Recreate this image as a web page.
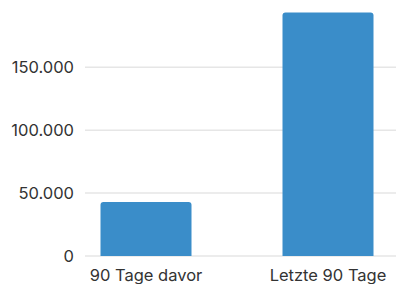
<!DOCTYPE html>
<html>
<head>
<meta charset="utf-8">
<script src="https://cdn.jsdelivr.net/npm/d3@7"></script>
<style>
  html, body { margin: 0; padding: 0; background: #fff; }
  svg { display: block; font-family: Inter, "Liberation Sans", Arial, sans-serif; }
</style>
</head>
<body>
<div id="chart"></div>
<script>
const FRAME_WIDTH = 396;
const FRAME_HEIGHT = 284;

const CATEGORIES = ["90 Tage davor", "Letzte 90 Tage"];
const VALUES = [43000, 193500];
const Y_TICKS = [0, 50000, 100000, 150000];

const BAR_COLOR = "#3a8dc9";

const FRAME = d3
  .select("#chart")
  .append("svg")
  .attr("width", FRAME_WIDTH)
  .attr("height", FRAME_HEIGHT);

const X_SCALE = d3
  .scaleBand()
  .domain(CATEGORIES)
  .range([55, 419])
  .paddingInner(0.5)
  .paddingOuter(0.25);

const Y_SCALE = d3
  .scaleLinear()
  .domain([0, 150000])
  .range([256, 67.3]);

const fmt = (v) => d3.format(",")(v).replace(/,/g, ".");

// grid lines
FRAME.append("g")
  .selectAll("line")
  .data(Y_TICKS)
  .enter()
  .append("line")
  .attr("x1", 85)
  .attr("x2", FRAME_WIDTH)
  .attr("y1", (d) => Y_SCALE(d))
  .attr("y2", (d) => Y_SCALE(d))
  .attr("stroke", "#e6e6e6")
  .attr("stroke-width", 1.5);

// y labels
FRAME.append("g")
  .selectAll("text")
  .data(Y_TICKS)
  .enter()
  .append("text")
  .attr("x", 74)
  .attr("y", (d) => Y_SCALE(d))
  .attr("dy", "0.35em")
  .attr("text-anchor", "end")
  .attr("fill", "#333")
  .style("font-size", "16.5px")
  .text((d) => fmt(d));

// bars with rounded tops
const r = 3;
FRAME.append("g")
  .selectAll("path")
  .data(VALUES)
  .enter()
  .append("path")
  .attr("fill", BAR_COLOR)
  .attr("d", (d, i) => {
    const x0 = X_SCALE(CATEGORIES[i]);
    const x1 = x0 + X_SCALE.bandwidth();
    const y0 = Y_SCALE(0);
    const y1 = Y_SCALE(d);
    return `M${x0},${y0}V${y1 + r}Q${x0},${y1} ${x0 + r},${y1}H${x1 - r}Q${x1},${y1} ${x1},${y1 + r}V${y0}Z`;
  });

// x labels
FRAME.append("g")
  .selectAll("text")
  .data(CATEGORIES)
  .enter()
  .append("text")
  .attr("x", (d) => X_SCALE(d) + X_SCALE.bandwidth() / 2)
  .attr("y", 275)
  .attr("dy", "0.35em")
  .attr("text-anchor", "middle")
  .attr("fill", "#333")
  .style("font-size", "16.5px")
  .text((d) => d);
</script>
</body>
</html>
